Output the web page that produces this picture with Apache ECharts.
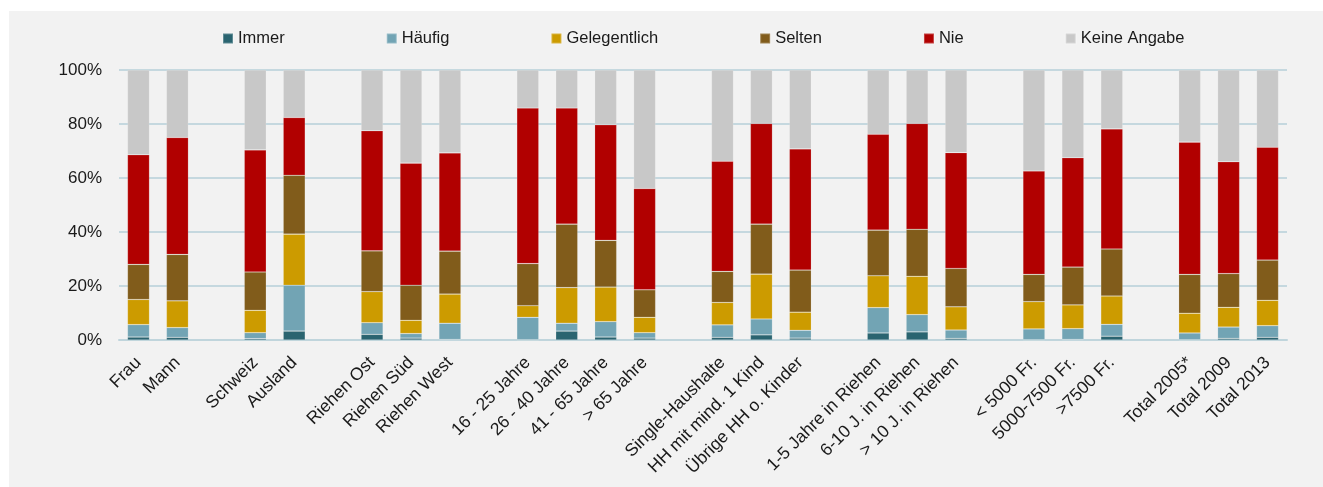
<!DOCTYPE html>
<html>
<head>
<meta charset="utf-8">
<script src="https://cdn.jsdelivr.net/npm/echarts@6/dist/echarts.min.js"></script>
<style>
  html, body { margin: 0; padding: 0; background: #ffffff; }
  #chart {
    position: absolute;
    left: 9px;
    top: 11px;
    width: 1314px;
    height: 476px;
    background: #f2f2f2;
  }
</style>
</head>
<body>
<div id="chart"></div>
<script>
// Categories, '' marks an empty slot between groups
const categories = [
  'Frau', 'Mann', '',
  'Schweiz', 'Ausland', '',
  'Riehen Ost', 'Riehen Süd', 'Riehen West', '',
  '16 - 25 Jahre', '26 - 40 Jahre', '41 - 65 Jahre', '> 65 Jahre', '',
  'Single-Haushalte', 'HH mit mind. 1 Kind', 'Übrige HH o. Kinder', '',
  '1-5 Jahre in Riehen', '6-10 J. in Riehen', '> 10 J. in Riehen', '',
  '< 5000 Fr.', '5000-7500 Fr.', '>7500 Fr.', '',
  'Total 2005*', 'Total 2009', 'Total 2013',
]

const seriesNames = ['Immer', 'Häufig', 'Gelegentlich', 'Selten', 'Nie', 'Keine Angabe']
const colors = ['#2a6470', '#72a4b4', '#cc9b00', '#815c1b', '#b10000', '#c8c8c8']

// Percent values, null for the empty slots
const immer = [1.1, 1.0, null, 0.5, 3.3, null, 2.1, 0.7, 0.2, null, 0.1, 3.3, 1.1, 0.7, null, 1.0, 1.9, 0.7, null, 2.6, 3.0, 0.6, null, 0.1, 0.2, 1.4, null, 0.1, 0.6, 1.0]
const haeufig = [4.6, 3.6, null, 2.2, 17.0, null, 4.3, 1.7, 6.0, null, 8.3, 2.9, 5.7, 2.0, null, 4.6, 5.9, 2.9, null, 9.4, 6.4, 3.1, null, 4.0, 4.0, 4.4, null, 2.5, 4.2, 4.3]
const gelegentlich = [9.3, 9.9, null, 8.3, 18.9, null, 11.5, 4.9, 10.8, null, 4.3, 13.2, 12.8, 5.7, null, 8.3, 16.6, 6.7, null, 11.8, 14.2, 8.6, null, 10.1, 8.8, 10.5, null, 7.3, 7.3, 9.4]
const selten = [13.0, 17.2, null, 14.2, 21.8, null, 15.1, 13.0, 15.9, null, 15.6, 23.5, 17.3, 10.2, null, 11.5, 18.5, 15.6, null, 16.9, 17.4, 14.2, null, 10.1, 14.0, 17.4, null, 14.4, 12.5, 14.9]
const nie = [40.6, 43.3, null, 45.2, 21.4, null, 44.5, 45.2, 36.4, null, 57.6, 43.0, 42.8, 37.5, null, 40.8, 37.3, 44.9, null, 35.5, 39.2, 42.9, null, 38.3, 40.5, 44.5, null, 49.0, 41.4, 41.8]
const keineAngabe = [31.4, 25.0, null, 29.6, 17.6, null, 22.5, 34.5, 30.7, null, 14.1, 14.1, 20.3, 43.9, null, 33.8, 19.8, 29.2, null, 23.8, 19.8, 30.6, null, 37.4, 32.5, 21.8, null, 26.7, 34.0, 28.6]

const yTicks = [0, 20, 40, 60, 80, 100]

const seriesData = [immer, haeufig, gelegentlich, selten, nie, keineAngabe]

const chart = echarts.init(document.getElementById('chart'))

const textFont = 'Liberation Sans, Arial, sans-serif'

const option = {
  animation: false,
  backgroundColor: '#f2f2f2',
  color: colors,
  legend: {
    top: 14,
    left: 208,
    itemWidth: 10,
    itemHeight: 10,
    itemGap: 101,
    icon: 'rect',
    textStyle: { fontFamily: textFont, fontSize: 16.5, color: '#1a1a1a' },
    data: seriesNames,
  },
  grid: { left: 110, right: 36, top: 59, bottom: 147 },
  xAxis: {
    type: 'category',
    data: categories,
    axisTick: { show: false },
    axisLine: { lineStyle: { color: '#c0d5dc', width: 2 } },
    axisLabel: {
      interval: 0,
      rotate: 45,
      margin: 20,
      fontFamily: textFont,
      fontSize: 17.5,
      color: '#1a1a1a',
    },
  },
  yAxis: {
    type: 'value',
    min: yTicks[0],
    max: yTicks[yTicks.length - 1],
    interval: 20,
    axisLine: { show: false },
    axisTick: { show: false },
    splitLine: { lineStyle: { color: '#c5d8df', width: 2 } },
    axisLabel: {
      formatter: '{value}%',
      margin: 17,
      fontFamily: textFont,
      fontSize: 17,
      color: '#1a1a1a',
    },
  },
  series: seriesNames.map((name, i) => ({
    name,
    type: 'bar',
    stack: 'total',
    barWidth: 22,
    data: seriesData[i],
    itemStyle: {
      color: colors[i],
      borderColor: 'rgba(255,255,255,0.25)',
      borderWidth: 0.6,
    },
  })),
}

chart.setOption(option)
</script>
</body>
</html>
